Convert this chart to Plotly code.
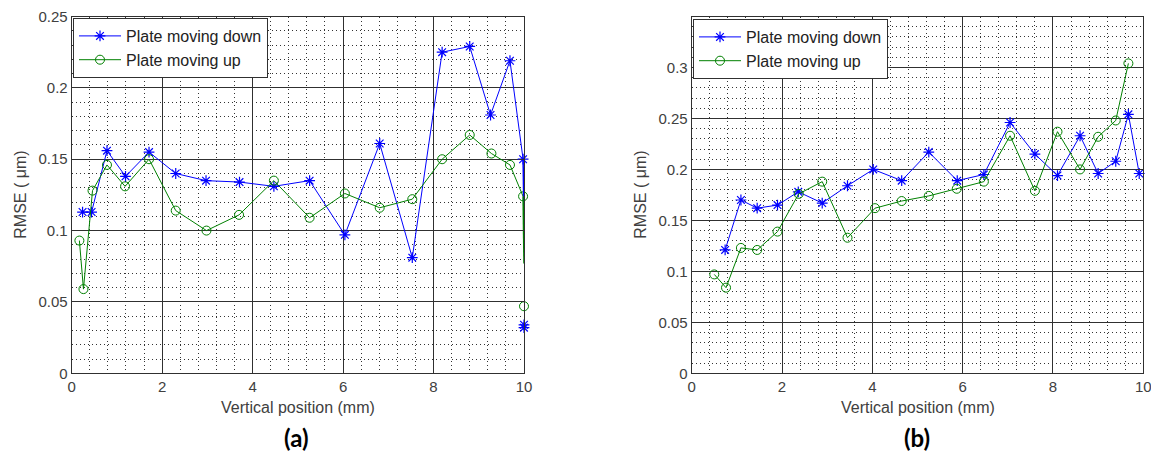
import plotly.graph_objects as go

# ---- panel (a) ----
a_down_x = [0.24, 0.44, 0.78, 1.19, 1.71, 2.30, 2.97, 3.71, 4.47, 5.26, 6.04, 6.81, 7.53, 8.19, 8.80, 9.26, 9.69, 9.98]
a_down_y = [0.113, 0.113, 0.156, 0.138, 0.155, 0.140, 0.135, 0.134, 0.131, 0.135, 0.097, 0.161, 0.081, 0.225, 0.229, 0.181, 0.219, 0.150]
a_down_tail_x = [9.98, 10.0]
a_down_tail_y = [0.150, 0.108]
a_down_iso_x = [10.0, 10.0]
a_down_iso_y = [0.034, 0.032]

a_up_x = [0.17, 0.26, 0.46, 0.78, 1.18, 1.71, 2.30, 2.98, 3.70, 4.47, 5.26, 6.04, 6.81, 7.53, 8.19, 8.80, 9.28, 9.69, 9.98]
a_up_y = [0.093, 0.059, 0.128, 0.146, 0.131, 0.150, 0.114, 0.100, 0.111, 0.135, 0.109, 0.126, 0.116, 0.122, 0.150, 0.167, 0.154, 0.146, 0.124]
a_up_tail_x = [9.98, 10.0]
a_up_tail_y = [0.124, 0.077]
a_up_iso_x = [10.0]
a_up_iso_y = [0.047]

a_yticks = [0, 0.05, 0.1, 0.15, 0.2, 0.25]

# ---- panel (b) ----
b_down_x = [0.74, 1.09, 1.45, 1.90, 2.36, 2.89, 3.45, 4.02, 4.65, 5.25, 5.88, 6.47, 7.05, 7.60, 8.10, 8.60, 9.00, 9.39, 9.67, 9.91]
b_down_y = [0.121, 0.170, 0.162, 0.165, 0.178, 0.167, 0.184, 0.200, 0.189, 0.217, 0.189, 0.195, 0.246, 0.215, 0.194, 0.233, 0.196, 0.208, 0.254, 0.196]

b_up_x = [0.50, 0.76, 1.09, 1.45, 1.90, 2.37, 2.89, 3.45, 4.06, 4.65, 5.25, 5.87, 6.47, 7.05, 7.60, 8.10, 8.60, 9.00, 9.39, 9.67]
b_up_y = [0.097, 0.084, 0.123, 0.121, 0.139, 0.176, 0.188, 0.133, 0.162, 0.169, 0.174, 0.181, 0.188, 0.233, 0.179, 0.237, 0.200, 0.232, 0.248, 0.304]

b_yticks = [0, 0.05, 0.1, 0.15, 0.2, 0.25, 0.3]

names = ["Plate moving down", "Plate moving up"]
panel_labels = ["<b>(a)</b>", "<b>(b)</b>"]

BLUE = "#0000ff"
GREEN = "#008000"

# the page body has an 8px margin, so the figure is drawn 8px in from the corner
OFF = 8
W, H = 1159 - OFF, 454 - OFF

def px(x):  # page pixel -> paper fraction
    return (x - OFF) / W

def py(y):
    return 1 - (y - OFF) / H

down_marker = dict(symbol="asterisk-open", size=9, color=BLUE, line=dict(color=BLUE, width=1.2))
up_marker = dict(symbol="circle-open", size=9, color=GREEN, line=dict(color=GREEN, width=1))

fig = go.Figure()

def add_panel(xa, ya, leg, dx, dy, ux, uy):
    fig.add_trace(go.Scatter(x=dx, y=dy, mode="lines+markers", name=names[0], xaxis=xa, yaxis=ya,
                             legend=leg, line=dict(color=BLUE, width=1), marker=down_marker,
                             cliponaxis=False))
    fig.add_trace(go.Scatter(x=ux, y=uy, mode="lines+markers", name=names[1], xaxis=xa, yaxis=ya,
                             legend=leg, line=dict(color=GREEN, width=1), marker=up_marker,
                             cliponaxis=False))

add_panel("x", "y", "legend", a_down_x, a_down_y, a_up_x, a_up_y)
# loose ends at the right edge of panel (a)
fig.add_trace(go.Scatter(x=a_down_tail_x, y=a_down_tail_y, mode="lines", showlegend=False,
                         line=dict(color=BLUE, width=1.5), cliponaxis=False))
fig.add_trace(go.Scatter(x=a_up_tail_x, y=a_up_tail_y, mode="lines", showlegend=False,
                         line=dict(color=GREEN, width=1.5), cliponaxis=False))
fig.add_trace(go.Scatter(x=a_down_iso_x, y=a_down_iso_y, mode="markers", showlegend=False,
                         marker=down_marker, cliponaxis=False))
fig.add_trace(go.Scatter(x=a_up_iso_x, y=a_up_iso_y, mode="markers", showlegend=False,
                         marker=up_marker, cliponaxis=False))

add_panel("x2", "y2", "legend2", b_down_x, b_down_y, b_up_x, b_up_y)

tick_font = dict(family="Liberation Sans, Arial", size=15, color="#404040")

axis_common = dict(
    showline=True, mirror="ticks", linecolor="#303030", linewidth=1,
    ticks="inside", ticklen=5, tickcolor="#303030",
    showgrid=True, gridcolor="#303030", gridwidth=1,
    zeroline=False, tickfont=tick_font, automargin=False,
    ticklabeloverflow="allow",
)
minor_grid = dict(showgrid=True, griddash="1px,3px", gridcolor="#333", gridwidth=1)

xdom_a = [px(71.7), px(524)]
xdom_b = [px(691.7), px(1143.3)]
ydom = [py(373.3), py(16.5)]

legend_style = dict(xanchor="left", yanchor="top", bgcolor="white",
                    bordercolor="#303030", borderwidth=1,
                    font=dict(size=16, color="#222"), itemwidth=42)

fig.update_layout(
    width=W, height=H,
    margin=dict(l=0, r=0, t=0, b=0),
    paper_bgcolor="white", plot_bgcolor="white",
    font=dict(family="Liberation Sans, Arial", color="#404040"),
    xaxis=dict(domain=xdom_a, range=[0, 10.0001], dtick=2, anchor="y",
               minor=dict(dtick=0.4, **minor_grid), **axis_common),
    yaxis=dict(domain=ydom, range=[0, 0.250001], tickvals=a_yticks, anchor="x",
               minor=dict(dtick=0.01, **minor_grid), **axis_common),
    xaxis2=dict(domain=xdom_b, range=[0, 10.0001], dtick=2, anchor="y2",
                minor=dict(dtick=0.4, **minor_grid), **axis_common),
    yaxis2=dict(domain=ydom, range=[0, 0.35], anchor="x2", tickvals=b_yticks,
                minor=dict(dtick=0.01, **minor_grid), **axis_common),
    legend=dict(x=px(73), y=py(18), **legend_style),
    legend2=dict(x=px(693), y=py(19), **legend_style),
)

# axis titles and panel labels as annotations
for cx, x0 in [((71.7 + 524) / 2, 71.7), ((691.7 + 1143.3) / 2, 691.7)]:
    fig.add_annotation(x=px(cx), y=py(407), xref="paper", yref="paper",
                       xanchor="center", yanchor="middle",
                       text="Vertical position (mm)", showarrow=False,
                       font=dict(size=16, color="#404040"))
    fig.add_annotation(x=px(x0 - 52), y=py(195), xref="paper", yref="paper",
                       xanchor="center", yanchor="middle",
                       text="RMSE ( \u03bcm)", textangle=-90, showarrow=False,
                       font=dict(size=16, color="#404040"))

for lbl, cx in zip(panel_labels, [297, 917]):
    fig.add_annotation(x=px(cx), y=py(437), xref="paper", yref="paper",
                       xanchor="center", yanchor="middle",
                       text=lbl, showarrow=False,
                       font=dict(family="Lato, Open Sans", size=24, color="black"))

fig.write_html("out.html")
